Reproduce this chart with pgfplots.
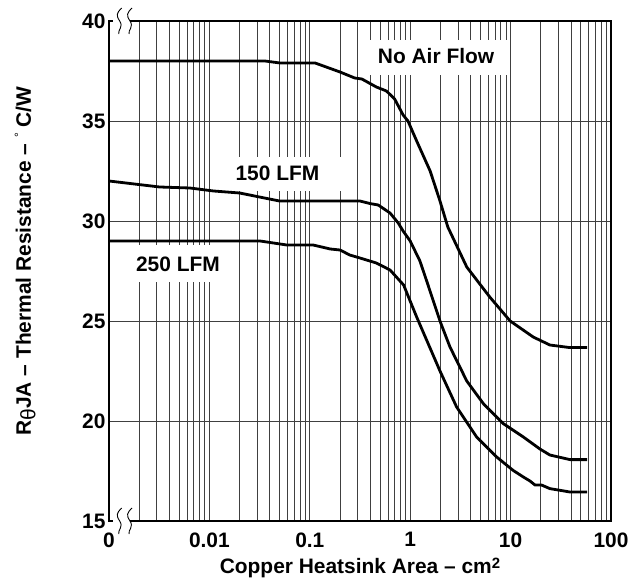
\documentclass[border=0pt]{standalone}
\usepackage{fontspec}
\setmainfont{Liberation Sans}
\usepackage{pgfplots}
\pgfplotsset{compat=1.18}

% thermal resistance vs copper area, three air flow cases
\pgfplotstableread{
x      y
0.001  38.0
0.0358 38.0
0.0505 37.9
0.113  37.9
0.2    37.45
0.28   37.15
0.33   37.1
0.46   36.7
0.58   36.5
0.70   36.1
0.85   35.3
0.95   35.0
1.16   34.0
1.58   32.5
1.98   31.0
2.37   29.7
3.66   27.7
6.2    26.2
9.9    25.0
16.8   24.2
24.6   23.8
39     23.67
58     23.67
}\noair

\pgfplotstableread{
x      y
0.001  32.0
0.0032 31.7
0.0064 31.65
0.011  31.5
0.020  31.4
0.05   31.0
0.316  31.0
0.40   30.87
0.48   30.8
0.63   30.4
0.76   29.9
0.85   29.5
1.0    29.0
1.25   28.0
1.46   27.0
1.98   25.0
2.49   23.7
3.66   22.0
5.35   20.87
8.45   19.87
13.4   19.2
19.6   18.6
24.6   18.3
39     18.07
58     18.07
}\lfmA

\pgfplotstableread{
x      y
0.001  29.0
0.032  29.0
0.059  28.8
0.108  28.8
0.16   28.6
0.2    28.55
0.25   28.3
0.316  28.15
0.46   27.9
0.63   27.55
0.86   26.8
1.16   25.2
1.98   22.5
2.9    20.7
4.59   19.2
7.27   18.2
10.6   17.53
13.4   17.2
15.6   17.0
17.5   16.8
20.3   16.8
24.6   16.62
39     16.45
58     16.45
}\lfmB

\begin{document}
\begin{tikzpicture}[font=\fontsize{21}{25}\selectfont\bfseries]
\begin{axis}[
  name=ax,
  scale only axis, width=502bp, height=500bp,
  xmode=log, xmin=0.001, xmax=100, ymin=15, ymax=40,
  xtick={0.001,0.01,0.1,1,10,100},
  xticklabels={0,0.01,0.1,1,10,100},
  minor xtick={0.002,0.003,0.004,0.005,0.006,0.007,0.008,0.009,
    0.02,0.03,0.04,0.05,0.06,0.07,0.08,0.09,
    0.2,0.3,0.4,0.5,0.6,0.7,0.8,0.9,
    2,3,4,5,6,7,8,9,20,30,40,50,60,70,80,90},
  ytick={15,20,25,30,35,40},
  /pgf/number format/assume math mode=true,
  major tick length=0pt, minor tick length=0pt,
  xmajorgrids, xminorgrids, ymajorgrids,
  major grid style={black!75, line width=0.8bp},
  minor grid style={black!75, line width=0.8bp},
  axis line style={line width=1.6bp},
  tick label style={font=\fontsize{21}{25}\selectfont\bfseries},
  xticklabel style={yshift=-8bp},
  xlabel={Copper Heatsink Area -- cm\raisebox{0.5ex}{\fontsize{15}{15}\selectfont 2}},
  ylabel={R\raisebox{-0.4ex}{\mdseries θ}JA -- Thermal Resistance -- \raisebox{0.7ex}{\mdseries\fontsize{12}{12}\selectfont °} C/W},
  xlabel style={at={(axis description cs:0.5,-0.094)}, anchor=center},
  ylabel style={at={(axis description cs:-0.167,0.52)}, anchor=center},
]
\fill[white] (axis cs:0.398,39.03) rectangle (axis cs:9.87,37.28);
\fill[white] (axis cs:0.01718,33.19) rectangle (axis cs:0.2094,31.49);
\fill[white] (axis cs:0.001734,28.79) rectangle (axis cs:0.01429,26.94);
\node at (axis cs:1.81,38.23) {No Air Flow};
\node at (axis cs:0.0476,32.39) {150 LFM};
\node at (axis cs:0.00486,27.85) {250 LFM};
\addplot[black, line width=2.8bp] table {\noair};
\addplot[black, line width=2.8bp] table {\lfmA};
\addplot[black, line width=2.8bp] table {\lfmB};
\end{axis}
% axis break marks near the left edge
\foreach \c in {north west, south west} {
  \draw[white, line width=3bp] ([xshift=4bp]ax.\c) -- ([xshift=21bp]ax.\c);
  \foreach \dx in {10.7, 21} {
    \draw[black, line width=0.9bp] ([shift={(\dx bp+2bp,13bp)}]ax.\c)
      .. controls +(-5bp,-5bp) and +(-4bp,6bp) .. ([shift={(\dx bp,0bp)}]ax.\c)
      .. controls +(4bp,-6bp) and +(-1bp,4bp) .. ([shift={(\dx bp-1bp,-13bp)}]ax.\c);
  }
}
\pgfresetboundingbox
\path[use as bounding box] ([shift={(-109bp,-60bp)}]ax.south west) rectangle ([shift={(22bp,21bp)}]ax.north east);
\end{tikzpicture}
\end{document}
